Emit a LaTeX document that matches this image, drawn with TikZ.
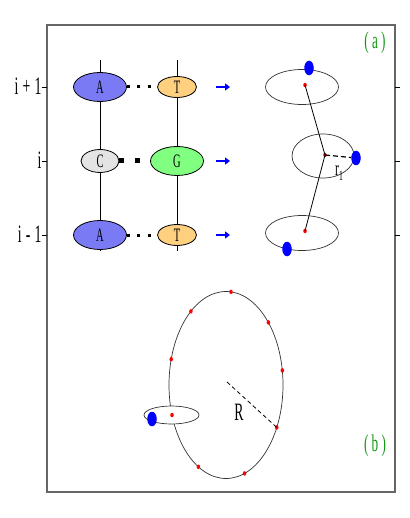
\documentclass[tikz,border=0pt]{standalone}
\usepackage{fontspec}
\usetikzlibrary{shapes.geometric,arrows.meta}
\newfontfamily\condfont[FakeStretch=0.55]{Liberation Serif}
\definecolor{baseA}{RGB}{122,122,245}
\definecolor{baseT}{RGB}{255,208,128}
\definecolor{baseC}{RGB}{228,228,228}
\definecolor{baseG}{RGB}{128,255,128}
\definecolor{labgreen}{RGB}{20,150,20}
\begin{document}
\begin{tikzpicture}[x=1pt,y=-1pt,
  base/.style={ellipse,draw=black,line width=0.8pt,inner sep=0pt,font=\condfont\fontsize{19}{19}\selectfont},
  bigbase/.style={base,minimum width=53,minimum height=29},
  smallbase/.style={base,minimum width=39,minimum height=21},
  bead/.style={ellipse,draw=black!80,line width=0.7pt,inner sep=0pt},
  reddot/.style={ellipse,fill=red,inner sep=0pt,minimum width=3.5,minimum height=4.5},
  bluedot/.style={ellipse,fill=blue,inner sep=0pt,minimum width=9.5,minimum height=14.5},
  hbond/.style={line width=3pt,dash pattern=on 3pt off 7.3pt},
  hbondbig/.style={line width=5pt,dash pattern=on 5pt off 11pt},
  mapsto/.style={-{Triangle[length=5pt,width=7pt]},line width=2.5pt,blue},
  rowlabel/.style={anchor=east,font=\condfont\fontsize{25}{25}\selectfont},
  panel/.style={text=labgreen,font=\condfont\fontsize{24}{24}\selectfont}]
\useasboundingbox (0,0) rectangle (409,518);
% frame and ticks
\draw[black!60,line width=1.2pt] (47,25) rectangle (395,492);
\foreach \y in {87,161,235} {
  \draw[line width=0.8pt] (42,\y) -- (47,\y);
  \draw[line width=0.8pt] (395,\y) -- (400,\y);
}
\node[rowlabel] (lab1) at (45,86) {i\,+\,1};
\node[rowlabel] (lab2) at (45,160) {i};
\node[rowlabel] (lab3) at (45,234) {i\,-\,1};
\node[panel] (pa) at (375,43) {( a )};
\node[panel] (pb) at (375,446) {( b )};
% base pairs
\node[bigbase,fill=baseA] (a1) at (100,87) {A};
\node[smallbase,fill=baseT] (t1) at (177,87) {T};
\node[base,fill=baseC,minimum width=38,minimum height=23] (c2) at (100,161) {C};
\node[bigbase,fill=baseG] (g2) at (177,161) {G};
\node[bigbase,fill=baseA] (a3) at (100,235) {A};
\node[smallbase,fill=baseT] (t3) at (177,235) {T};
\coordinate (lTop) at (100,60);
\coordinate (lBot) at (100,251);
\coordinate (rTop) at (177,60);
\coordinate (rBot) at (177,251);
\draw[line width=0.8pt] (lTop) -- (a1) -- (c2) -- (a3) -- (lBot);
\draw[line width=0.8pt] (rTop) -- (t1) -- (g2) -- (t3) -- (rBot);
\draw[hbond] (a1) -- (t1);
\draw[hbondbig] (c2) -- (g2);
\draw[hbond] (a3) -- (t3);
% arrows
\foreach \y [count=\k] in {87,161,235} {
  \coordinate (mapA\k) at (216,\y);
  \coordinate (mapB\k) at (230,\y);
  \draw[mapsto] (mapA\k) -- (mapB\k);
}
% coarse grained beads
\node[bead,minimum width=73,minimum height=35] (e1) at (302,87) {};
\node[bead,minimum width=62,minimum height=44] (e2) at (323,156) {};
\node[bead,minimum width=73,minimum height=35] (e3) at (302,233) {};
\node[reddot] (p1) at (305,85) {};
\node[reddot] (p2) at (325,155) {};
\node[reddot] (p3) at (305,231) {};
\node[bluedot] (s1) at (309,68) {};
\node[bluedot] (s2) at (356,158) {};
\node[bluedot] (s3) at (287,249) {};
\draw[line width=0.8pt] (p1.center) -- (p2.center) -- (p3.center);
\draw[line width=1.2pt,dash pattern=on 5pt off 3pt] (p2.center) -- (s2);
\node[font=\condfont\fontsize{21}{21}\selectfont] (rlab) at (339,173) {r\raisebox{-5pt}{\fontsize{14}{14}\selectfont 1}};
% ring
\node[bead,minimum width=114,minimum height=187] (ring) at (226,385) {};
\foreach \t [count=\k] in {-85,-128,-42,-164,-9,27,119,71}
  \node[reddot] (m\k) at ({226+57*cos(\t)},{385+93.5*sin(\t)}) {};
\coordinate (ringc) at (227,382);
\draw[line width=0.8pt,dash pattern=on 4pt off 3pt] (ringc) -- (m6.center);
\node[font=\condfont\fontsize{25}{25}\selectfont] (Rlab) at (239,412) {R};
\node[bead,fill=white,minimum width=55,minimum height=18] (e4) at (171.5,415) {};
\node[reddot] (p4) at (172,415) {};
\node[bluedot] (s4) at (152,419) {};
\end{tikzpicture}
\end{document}
